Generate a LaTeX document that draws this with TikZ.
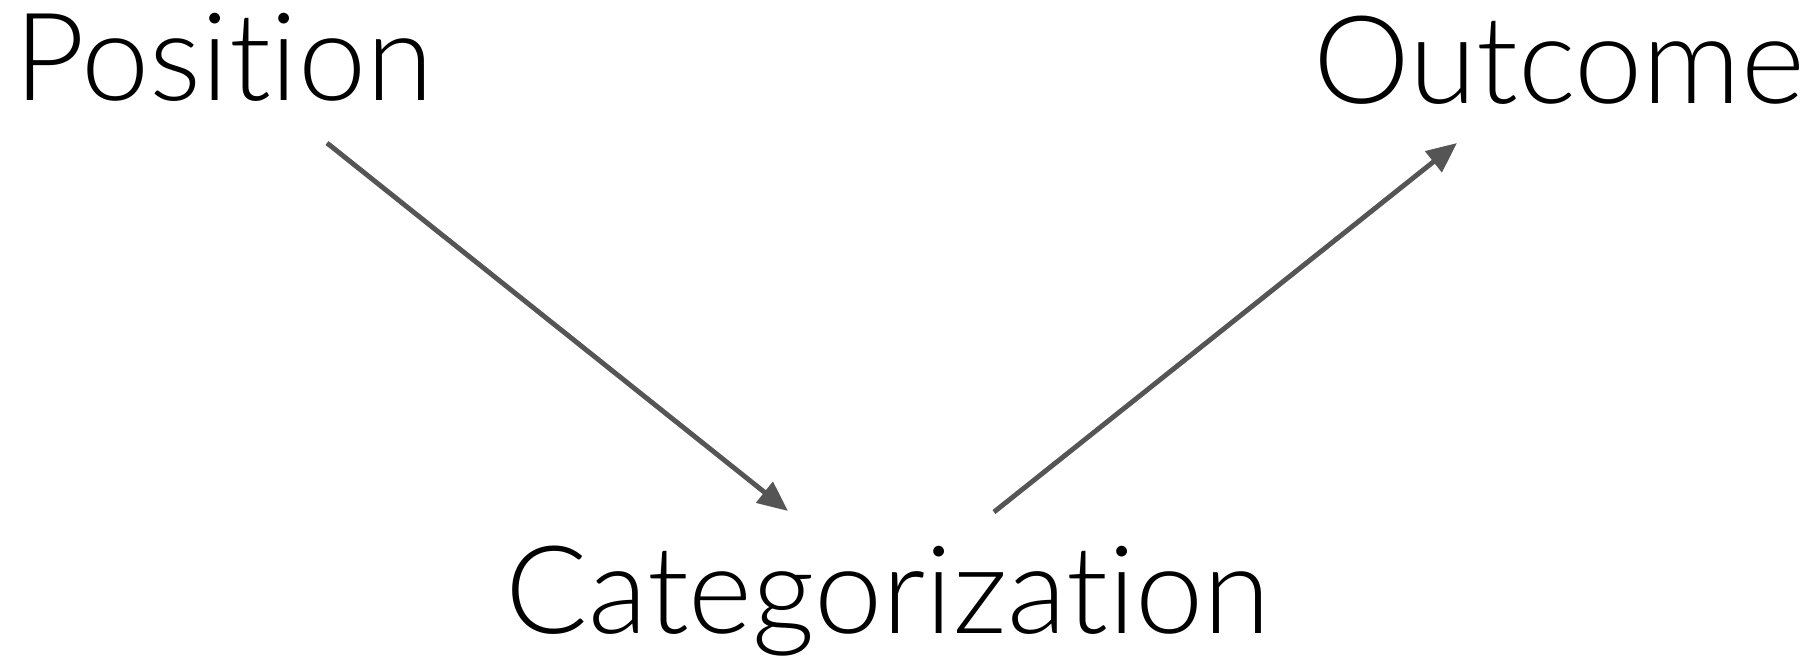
\documentclass[tikz,border=0pt]{standalone}
\usepackage{fontspec}
\setmainfont{Lato}[UprightFont=* Light, Ligatures=NoCommon]
\usetikzlibrary{arrows.meta}

\definecolor{linkgray}{HTML}{555555}

\begin{document}
\begin{tikzpicture}[
  word/.style={inner sep=0pt, anchor=base, font=\fontsize{34.8}{40}\selectfont},
  link/.style={draw=linkgray, line width=1.4pt, -{Triangle[length=8.6pt, width=7.4pt]}}
]
\useasboundingbox (0,0) rectangle (18.2,6.57);

\node [word] (Position) at (2.24,5.57) {Position};
\node [word] (Outcome) at (15.59,5.54) {Outcome};
\node [word] (Categorization) at (8.88,0.24) {Categorization};

% free ends of the two links
\coordinate (P-out) at (3.27,5.14);
\coordinate (C-in) at (7.88,1.46);
\coordinate (C-out) at (9.94,1.45);
\coordinate (O-in) at (14.57,5.14);

\draw[link] (P-out) -- (C-in);
\draw[link] (C-out) -- (O-in);
\end{tikzpicture}
\end{document}
